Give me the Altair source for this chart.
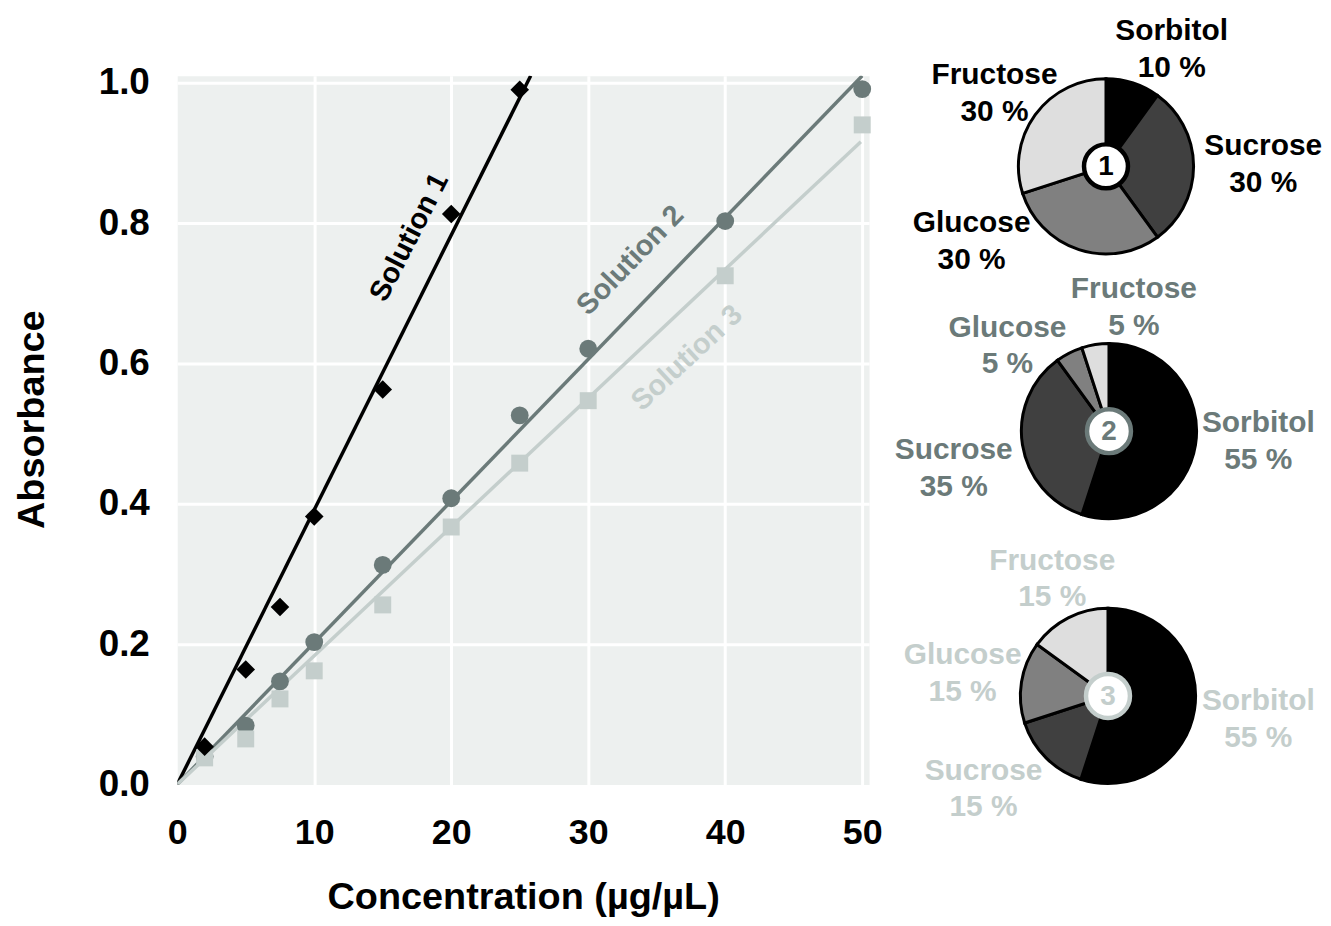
import math
import altair as alt
import pandas as pd

# ------------------------------------------------------------------ data
series = ["Solution 1", "Solution 2", "Solution 3"]

conc_s1 = [2, 5, 7.5, 10, 15, 20, 25]
abs_s1 = [0.054, 0.164, 0.253, 0.382, 0.563, 0.813, 0.990]

conc_s23 = [2, 5, 7.5, 10, 15, 20, 25, 30, 40, 50]
abs_s2 = [0.040, 0.084, 0.147, 0.203, 0.313, 0.408, 0.526, 0.621, 0.803, 0.991]
abs_s3 = [0.038, 0.065, 0.122, 0.162, 0.256, 0.367, 0.458, 0.547, 0.725, 0.940]

# fitted lines: start at the origin, end points
fit_x_end = [25.8, 50.0, 49.9]
fit_y_end = [1.01, 1.01, 0.916]

x_ticks = [0, 10, 20, 30, 40, 50]
y_ticks = [0.0, 0.2, 0.4, 0.6, 0.8, 1.0]

pies = ["1", "2", "3"]
sugars = ["Sorbitol", "Sucrose", "Glucose", "Fructose"]
pct_p1 = [10, 30, 30, 30]
pct_p2 = [55, 35, 5, 5]
pct_p3 = [55, 15, 15, 15]

# ------------------------------------------------------------------ layout / style
PLOT_W, PLOT_H = 695, 712
PIE_W = 446
PANEL_X0, PANEL_Y0 = 880, 74          # pie panel frame (page-like units)
PIE_R = 88

C_S1, C_S2, C_S3 = "#000000", "#6b7a79", "#c4cecc"
BG = "#edf0ef"
SUGAR_COLORS = ["#000000", "#404040", "#808080", "#dedede"]
FONT = "Liberation Sans"

pie_centers = {"1": (1109, 165), "2": (1112, 431), "3": (1111, 697)}
label_centers = {
    "1": {"Sorbitol": (1175, 47), "Sucrose": (1267, 163), "Glucose": (974, 240), "Fructose": (997, 91)},
    "2": {"Sorbitol": (1262, 441), "Sucrose": (956, 468), "Glucose": (1010, 345), "Fructose": (1137, 306)},
    "3": {"Sorbitol": (1262, 720), "Sucrose": (986, 790), "Glucose": (965, 674), "Fructose": (1055, 579)},
}
series_label_anchor = [(16.93, 0.780, 297), (33.07, 0.747, 314), (37.2, 0.608, 317)]

# ------------------------------------------------------------------ tables
pts_rows = []
for c, a in zip(conc_s1, abs_s1):
    pts_rows.append({"series": series[0], "conc": c, "abs": a})
for c, a in zip(conc_s23, abs_s2):
    pts_rows.append({"series": series[1], "conc": c, "abs": a})
for c, a in zip(conc_s23, abs_s3):
    pts_rows.append({"series": series[2], "conc": c, "abs": a})
pts = pd.DataFrame(pts_rows)
pts["order"] = pts["series"].map({series[1]: 0, series[2]: 1, series[0]: 2})

fit_rows = []
for s, xe, ye in zip(series, fit_x_end, fit_y_end):
    fit_rows.append({"series": s, "conc": 0.0, "abs": 0.0})
    fit_rows.append({"series": s, "conc": xe, "abs": ye})
fits = pd.DataFrame(fit_rows)

lab_df = pd.DataFrame([
    {"series": s, "conc": a[0], "abs": a[1], "ang": a[2]}
    for s, a in zip(series, series_label_anchor)
])

pie_rows = []
for p, pcts in zip(pies, [pct_p1, pct_p2, pct_p3]):
    for i, (sg, v) in enumerate(zip(sugars, pcts)):
        lx, ly = label_centers[p][sg]
        pie_rows.append({"pie": p, "sugar": sg, "pct": v, "order": i,
                         "cx": pie_centers[p][0], "cy": pie_centers[p][1],
                         "lx": lx, "ly": ly,
                         "label": f"{sg}\n{v} %"})
pie_df = pd.DataFrame(pie_rows)
center_df = pd.DataFrame([{"pie": p, "cx": pie_centers[p][0], "cy": pie_centers[p][1]} for p in pies])

# ------------------------------------------------------------------ scatter panel
xs = alt.Scale(domain=[0, 50.5], nice=False, zero=False)
ys = alt.Scale(domain=[0, 1.01], nice=False, zero=False)
col = alt.Scale(domain=series, range=[C_S1, C_S2, C_S3])

grid_op = {"condition": {"test": "datum.value === 0", "value": 0}, "value": 1}

x_axis = alt.Axis(values=x_ticks, format="d", title="Concentration (µg/µL)",
                  labelFlush=False, domain=False, ticks=False, tickSize=0,
                  labelFont=FONT, labelFontSize=36, labelFontWeight="bold", labelColor="black",
                  labelPadding=31, titleFont=FONT, titleFontSize=38, titleFontWeight="bold",
                  titleColor="black", titlePadding=29,
                  grid=True, gridColor="white", gridWidth=3, gridOpacity=grid_op)
y_axis = alt.Axis(values=y_ticks, format=".1f", title="Absorbance",
                  labelFlush=False, domain=False, ticks=False, tickSize=0,
                  labelFont=FONT, labelFontSize=37, labelFontWeight="bold", labelColor="black",
                  labelPadding=28, titleFont=FONT, titleFontSize=38, titleFontWeight="bold",
                  titleColor="black", titlePadding=47, titleY=345,
                  grid=True, gridColor="white", gridWidth=3, gridOpacity=grid_op)

lines = alt.Chart(fits).mark_line(strokeWidth=3.5, clip=True).encode(
    x=alt.X("conc:Q", scale=xs, axis=x_axis),
    y=alt.Y("abs:Q", scale=ys, axis=y_axis),
    color=alt.Color("series:N", scale=col, legend=None),
    detail="series:N",
)

points = alt.Chart(pts).mark_point(filled=True, opacity=1).encode(
    x=alt.X("conc:Q", scale=xs),
    y=alt.Y("abs:Q", scale=ys),
    color=alt.Color("series:N", scale=col, legend=None),
    shape=alt.Shape("series:N", scale=alt.Scale(domain=series, range=["diamond", "circle", "square"]), legend=None),
    size=alt.Size("series:N", scale=alt.Scale(domain=series, range=[350, 290, 250]), legend=None),
    order=alt.Order("order:Q"),
)

series_text = alt.Chart(lab_df).mark_text(font=FONT, fontSize=29, fontWeight="bold",
                                          align="center", baseline="middle").encode(
    x=alt.X("conc:Q", scale=xs),
    y=alt.Y("abs:Q", scale=ys),
    text="series:N",
    angle=alt.Angle("ang:Q", scale=None),
    color=alt.Color("series:N", scale=col, legend=None),
)

scatter = alt.layer(lines, points, series_text).properties(
    width=PLOT_W, height=PLOT_H,
    view=alt.ViewBackground(fill=BG, stroke="transparent"),
)

# ------------------------------------------------------------------ pie panel
px = alt.Scale(domain=[PANEL_X0, PANEL_X0 + PIE_W], nice=False, zero=False)
py = alt.Scale(domain=[PANEL_Y0 + PLOT_H, PANEL_Y0], nice=False, zero=False)
pie_col = alt.Scale(domain=pies, range=[C_S1, C_S2, C_S3])

arcs = alt.Chart(pie_df).transform_window(
    t1="sum(pct)", groupby=["pie"], sort=[alt.SortField("order")], frame=[None, 0]
).transform_calculate(
    t0="datum.t1 - datum.pct"
).mark_arc(radius=PIE_R, stroke="black", strokeWidth=3).encode(
    x=alt.X("cx:Q", scale=px, axis=None),
    y=alt.Y("cy:Q", scale=py, axis=None),
    theta=alt.Theta("t0:Q", scale=alt.Scale(domain=[0, 100], range=[0, 2 * math.pi]), stack=False),
    theta2="t1:Q",
    fill=alt.Fill("sugar:N", scale=alt.Scale(domain=sugars, range=SUGAR_COLORS), legend=None),
)

centers = alt.Chart(center_df).mark_point(shape="circle", fill="white", filled=True,
                                          strokeWidth=4.5, size=1950, opacity=1).encode(
    x=alt.X("cx:Q", scale=px, axis=None),
    y=alt.Y("cy:Q", scale=py, axis=None),
    stroke=alt.Stroke("pie:N", scale=pie_col, legend=None),
)

numbers = alt.Chart(center_df).mark_text(font=FONT, fontSize=28, fontWeight="bold",
                                         align="center", baseline="middle", dy=1).encode(
    x=alt.X("cx:Q", scale=px, axis=None),
    y=alt.Y("cy:Q", scale=py, axis=None),
    text="pie:N",
    color=alt.Color("pie:N", scale=pie_col, legend=None),
)

labels = alt.Chart(pie_df).mark_text(font=FONT, fontSize=30, fontWeight="bold",
                                     align="center", baseline="middle",
                                     lineBreak="\n", lineHeight=37, dy=-18).encode(
    x=alt.X("lx:Q", scale=px, axis=None),
    y=alt.Y("ly:Q", scale=py, axis=None),
    text="label:N",
    color=alt.Color("pie:N", scale=pie_col, legend=None),
)

pie_panel = alt.layer(arcs, centers, numbers, labels).properties(
    width=PIE_W, height=PLOT_H,
    view=alt.ViewBackground(stroke="transparent"),
)

chart = alt.hconcat(scatter, pie_panel, spacing=9, bounds="flush").resolve_scale(
    x="independent", y="independent", color="independent"
).properties(
    padding={"left": 5, "top": 5, "right": 0, "bottom": 0},
    background="white",
)

chart.save("out.html", embed_options={"renderer": "svg", "actions": False})
